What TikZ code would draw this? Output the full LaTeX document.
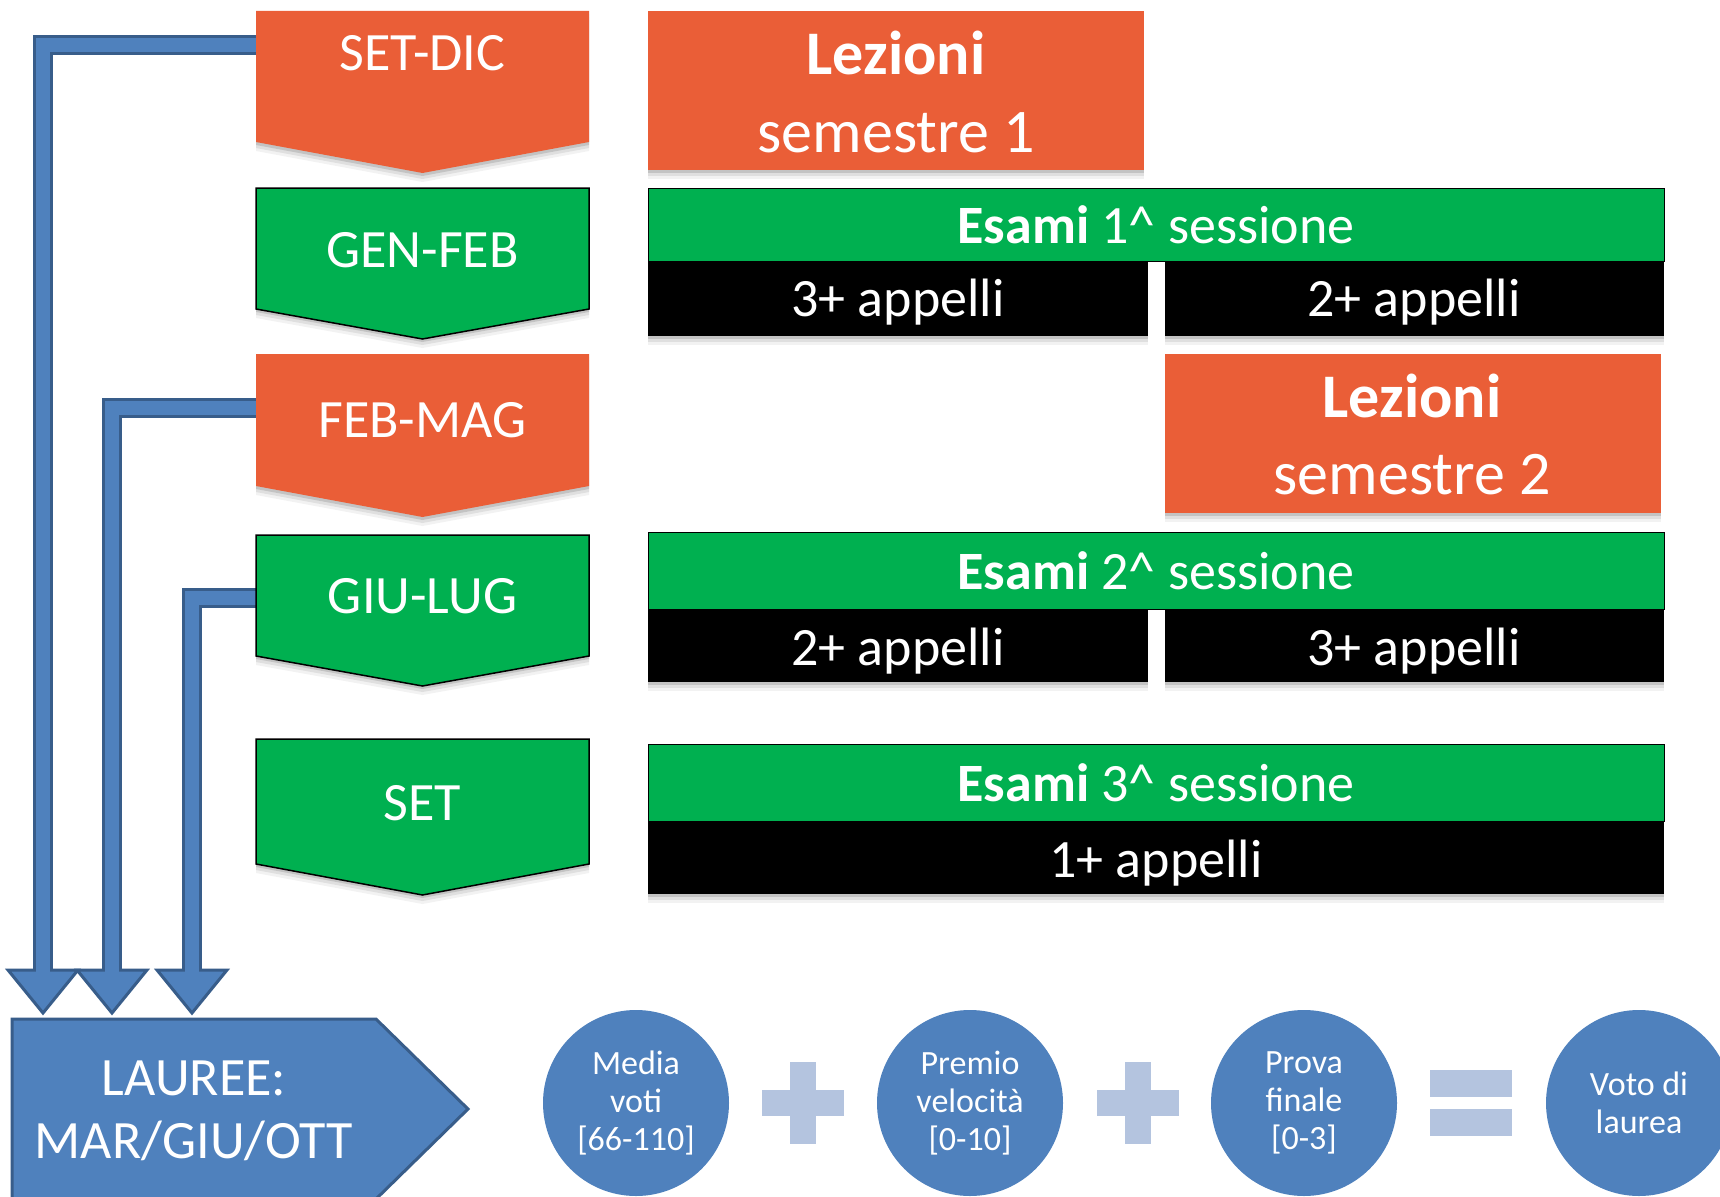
\documentclass[tikz,border=0pt]{standalone}
\usepackage{fontspec}
\setmainfont{Carlito}
\usetikzlibrary{calc,shadows}
\definecolor{myorange}{HTML}{EA5E37}
\definecolor{mygreen}{HTML}{00B050}
\definecolor{myblue}{HTML}{4F81BD}
\definecolor{bluedark}{HTML}{385D8A}
\definecolor{paleblue}{HTML}{B4C4DF}
\tikzset{
  shad/.style={
    drop shadow={shadow xshift=0pt, shadow yshift=-9pt, opacity=0.05, fill=black},
    drop shadow={shadow xshift=0pt, shadow yshift=-6pt, opacity=0.08, fill=black},
    drop shadow={shadow xshift=0pt, shadow yshift=-3pt, opacity=0.12, fill=black}},
  lbl/.style={text=white, font=\fontsize{54}{64}\selectfont, anchor=base, inner sep=0pt},
  big/.style={text=white, font=\fontsize{62}{74}\selectfont, anchor=base, inner sep=0pt},
  box/.style={anchor=north west, inner sep=0pt, outer sep=0pt},
  orangebox/.style={box, fill=myorange, shad},
  greenbar/.style={box, fill=mygreen, draw=black, line width=1pt},
  blackbar/.style={box, fill=black, shad},
  shaft/.style={draw=bluedark, line width=3pt, double=myblue, double distance=14pt, line join=miter},
  bhead/.style={fill=myblue, draw=bluedark, line width=3pt, line join=miter},
  circ/.style={circle, fill=myblue, minimum size=186pt, inner sep=0pt, text=white, align=center, font=\fontsize{34}{38}\selectfont},
  sign/.style={fill=paleblue},
}
\newcommand\pent[4]{\path[#1] (256,#2) -- (589,#2) -- (589,#3) -- (422.5,#4) -- (256,#3) -- cycle;}
\newcommand\bhd[1]{%
  \path[bhead] ($(#1)+(-35,-43)$) -- ($(#1)+(35,-43)$) -- (#1) -- cycle;
  \draw[myblue, line width=14pt] ($(#1)+(0,-48)$) -- ($(#1)+(0,-39)$);}
\begin{document}
\begin{tikzpicture}[x=1pt,y=-1pt]
\useasboundingbox (0,0) rectangle (1720,1196);
\fill[white] (0,0) rectangle (1720,1196);

% connector end points
\coordinate (s1) at (262,45.5);
\coordinate (t1) at (43,1013);
\coordinate (s2) at (262,408);
\coordinate (t2) at (112,1013);
\coordinate (s3) at (262,598);
\coordinate (t3) at (192,1013);

% blue block arrows
\draw[shaft] (s1) -| ($(t1)+(0,-40)$);
\bhd{t1}
\draw[shaft] (s2) -| ($(t2)+(0,-40)$);
\bhd{t2}
\draw[shaft] (s3) -| ($(t3)+(0,-40)$);
\bhd{t3}

% left column pentagons
\pent{fill=myorange, shad}{11}{142}{173}
\pent{fill=mygreen, draw=black, line width=1.5pt, shad}{188}{309}{339}
\pent{fill=myorange, shad}{354}{486}{517}
\pent{fill=mygreen, draw=black, line width=1.5pt, shad}{535}{656}{686}
\pent{fill=mygreen, draw=black, line width=1.5pt, shad}{739}{864}{895}

\node[lbl] (setdic) at (422.5,71) {SET-DIC};
\node[lbl] (genfeb) at (422.5,267) {GEN-FEB};
\node[lbl] (febmag) at (422.5,437) {FEB-MAG};
\node[lbl] (giulug) at (422.5,613) {GIU-LUG};
\node[lbl] (settem) at (422.5,820) {SET};

% Lezioni semestre 1
\node[orangebox, minimum width=496, minimum height=159] (lez1) at (648,11) {};
\node[big] (lez1a) at (896,75) {\textbf{Lezioni}};
\node[big] (lez1b) at (896,152) {semestre 1};

% Esami 1
\node[greenbar, minimum width=1016, minimum height=73] (es1) at (648,188) {};
\node[blackbar, minimum width=500, minimum height=75] (b1l) at (648,261) {};
\node[blackbar, minimum width=499, minimum height=75] (b1r) at (1165,261) {};
\node[lbl] (es1t) at (1156,243) {\textbf{Esami} 1\textasciicircum{} sessione};
\node[lbl] (b1lt) at (898,316) {3+ appelli};
\node[lbl] (b1rt) at (1414,316) {2+ appelli};

% Lezioni semestre 2
\node[orangebox, minimum width=496, minimum height=159] (lez2) at (1165,354) {};
\node[big] (lez2a) at (1412,417) {\textbf{Lezioni}};
\node[big] (lez2b) at (1412,494) {semestre 2};

% Esami 2
\node[greenbar, minimum width=1016, minimum height=77] (es2) at (648,532) {};
\node[blackbar, minimum width=500, minimum height=73] (b2l) at (648,609) {};
\node[blackbar, minimum width=499, minimum height=73] (b2r) at (1165,609) {};
\node[lbl] (es2t) at (1156,589) {\textbf{Esami} 2\textasciicircum{} sessione};
\node[lbl] (b2lt) at (898,665) {2+ appelli};
\node[lbl] (b2rt) at (1414,665) {3+ appelli};

% Esami 3
\node[greenbar, minimum width=1016, minimum height=77] (es3) at (648,744) {};
\node[blackbar, minimum width=1016, minimum height=73] (b3) at (648,821) {};
\node[lbl] (es3t) at (1156,801) {\textbf{Esami} 3\textasciicircum{} sessione};
\node[lbl] (b3t) at (1156,877) {1+ appelli};

% LAUREE arrow
\path[fill=myblue, draw=bluedark, line width=3pt, line join=miter] (12,1019) -- (376,1019) -- (468,1109) -- (376,1199) -- (12,1199) -- cycle;
\node[lbl] (laur1) at (194,1095) {LAUREE:};
\node[lbl] (laur2) at (194,1158) {MAR/GIU/OTT};

% formula
\node[circ] (media) at (636,1103) {Media\\voti\\{}[66-110]};
\node[circ] (premio) at (970,1103) {Premio\\velocità\\{}[0-10]};
\node[circ] (prova) at (1304,1103) {Prova\\finale\\{}[0-3]};
\node[circ] (voto) at (1639,1103) {Voto di\\laurea};

\fill[sign] (762,1090) rectangle (844,1116);
\fill[sign] (790,1062) rectangle (816,1144);
\fill[sign] (1097,1090) rectangle (1179,1116);
\fill[sign] (1125,1062) rectangle (1151,1144);
\fill[sign] (1430,1070) rectangle (1512,1097);
\fill[sign] (1430,1109) rectangle (1512,1136);
\end{tikzpicture}
\end{document}
